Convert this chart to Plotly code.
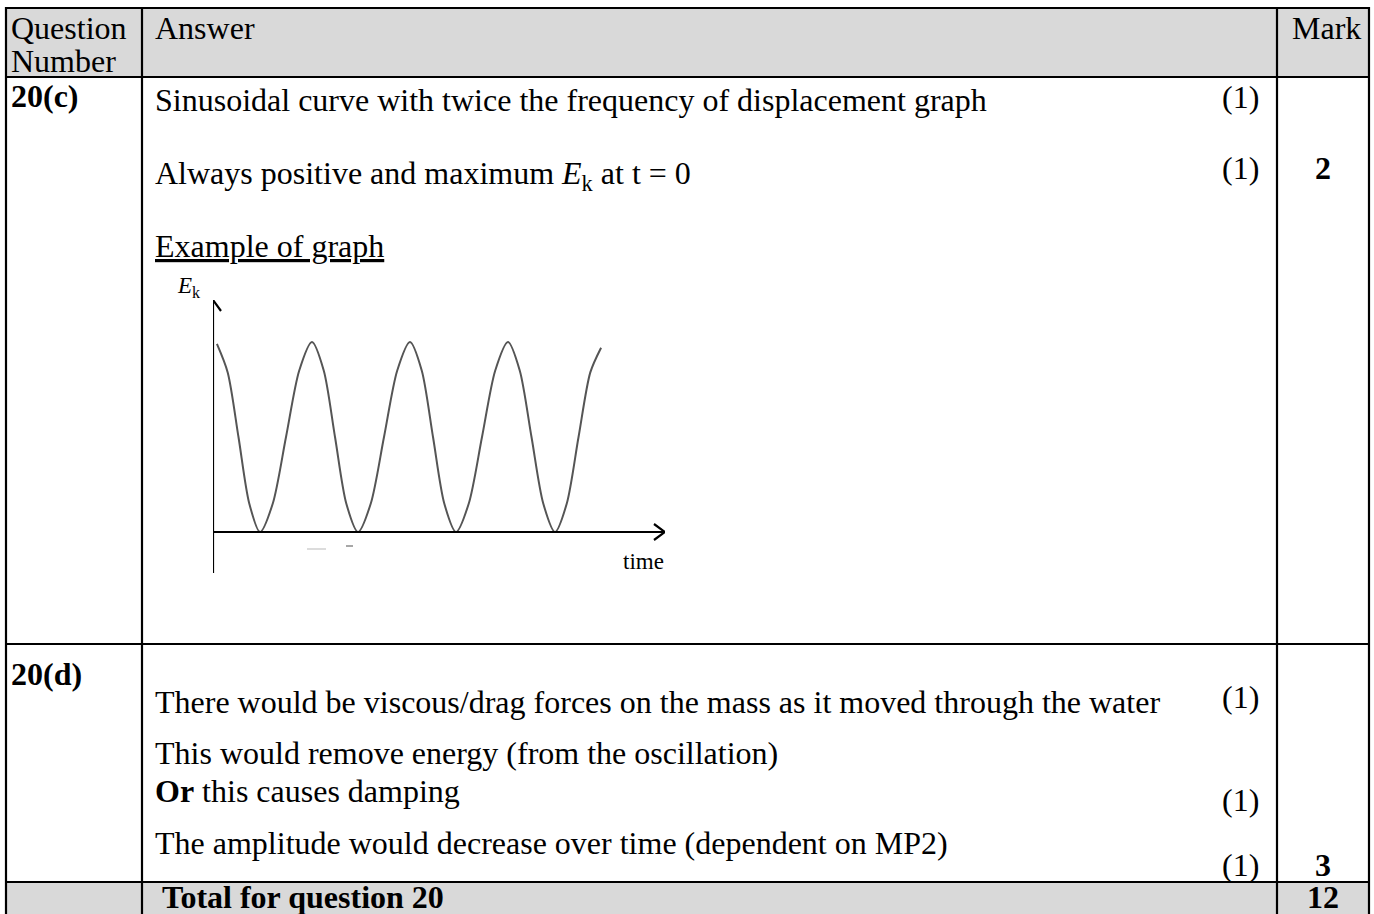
import plotly.graph_objects as go

# ---------------- data ----------------
# Example Ek–time curve (Ek normalised to peak = 1)
time_vals = [0.04, 0.15, 0.26, 0.37, 0.48, 0.61, 0.745, 0.88, 1.01, 1.13, 1.245, 1.36, 1.48,
             1.61, 1.745, 1.88, 2.01, 2.13, 2.245, 2.36, 2.48, 2.61, 2.745, 2.88, 3.01,
             3.13, 3.25, 3.37, 3.49, 3.61, 3.73, 3.85, 3.96]
ek_vals = [0.99, 0.84, 0.50, 0.15, 0.00, 0.15, 0.50, 0.85, 1.00, 0.85, 0.50, 0.15, 0.00,
           0.15, 0.50, 0.85, 1.00, 0.85, 0.50, 0.15, 0.00, 0.15, 0.50, 0.85, 1.00,
           0.85, 0.50, 0.15, 0.00, 0.15, 0.50, 0.84, 0.97]

header_labels = ["Question", "Number", "Answer", "Mark"]
question_ids = ["20(c)", "20(d)"]
answers_c = ["Sinusoidal curve with twice the frequency of displacement graph",
             "Always positive and maximum <i>E</i><sub>k</sub> at t = 0"]
marks_c = ["(1)", "(1)"]
total_c = "2"
graph_caption = "Example of graph"
axis_labels = ["<i>E</i><sub>k</sub>", "time"]
answers_d = ["There would be viscous/drag forces on the mass as it moved through the water",
             "This would remove energy (from the oscillation)",
             "<b>Or</b> this causes damping",
             "The amplitude would decrease over time (dependent on MP2)"]
marks_d = ["(1)", "(1)", "(1)"]
total_d = "3"
total_label = "Total for question 20"
total_all = "12"

# ---------------- layout helpers ----------------
W, H = 1374, 914
FONT = "Liberation Serif, Times New Roman, serif"
FS = 32


def px(x):
    return x / W


def py(y):
    return 1 - y / H


fig = go.Figure()

# graph geometry (pixels)
gx0, gx1 = 213, 665          # y-axis position, x-arrow tip
gy_top, gy_bot = 300, 573     # y-arrow tip, bottom of y-axis
gy_zero = 532                 # Ek = 0 line
px_per_t = 98.0
px_per_ek = 190.0
t_max = (gx1 - gx0) / px_per_t
ek_top = (gy_zero - gy_top) / px_per_ek
ek_bot = (gy_zero - gy_bot) / px_per_ek

fig.add_trace(go.Scatter(x=time_vals, y=ek_vals, mode="lines",
                         line=dict(color="#555555", width=2, shape="spline", smoothing=0.8),
                         hoverinfo="skip", showlegend=False))

fig.update_xaxes(domain=[px(gx0), px(gx1)], range=[0, t_max], visible=False,
                 showgrid=False, zeroline=False, fixedrange=True)
fig.update_yaxes(domain=[py(gy_bot), py(gy_top)], range=[ek_bot, ek_top], visible=False,
                 showgrid=False, zeroline=False, fixedrange=True)

shapes = []
# table backgrounds
shapes.append(dict(type="rect", xref="paper", yref="paper", x0=px(6), x1=px(1369),
                   y0=py(77), y1=py(8), fillcolor="#d9d9d9", line=dict(width=0), layer="below"))
shapes.append(dict(type="rect", xref="paper", yref="paper", x0=px(6), x1=px(1369),
                   y0=py(920), y1=py(882), fillcolor="#d9d9d9", line=dict(width=0), layer="below"))
LW = 2.2
for yline in [8, 77, 644, 882]:
    shapes.append(dict(type="line", xref="paper", yref="paper", x0=px(5), x1=px(1370),
                       y0=py(yline), y1=py(yline), line=dict(color="black", width=LW)))
for xline in [6, 142, 1277, 1369]:
    shapes.append(dict(type="line", xref="paper", yref="paper", x0=px(xline), x1=px(xline),
                       y0=py(7), y1=py(920), line=dict(color="black", width=LW)))

# graph axes with open arrowheads (data coordinates)
shapes.append(dict(type="line", xref="x", yref="y", x0=0, x1=0, y0=ek_bot, y1=ek_top,
                   line=dict(color="black", width=2.2)))
shapes.append(dict(type="line", xref="x", yref="y", x0=0, x1=t_max, y0=0, y1=0,
                   line=dict(color="black", width=2.2)))
ah_w, ah_l = 8, 11
shapes.append(dict(type="path", xref="x", yref="y",
                   path=f"M {-ah_w/px_per_t} {ek_top-ah_l/px_per_ek} L 0 {ek_top} L {ah_w/px_per_t} {ek_top-ah_l/px_per_ek}",
                   line=dict(color="black", width=2.2)))
shapes.append(dict(type="path", xref="x", yref="y",
                   path=f"M {t_max-ah_l/px_per_t} {ah_w/px_per_ek} L {t_max} 0 L {t_max-ah_l/px_per_t} {-ah_w/px_per_ek}",
                   line=dict(color="black", width=2.2)))
# faint scan marks under the time axis
shapes.append(dict(type="line", xref="paper", yref="paper", x0=px(307), x1=px(326),
                   y0=py(549), y1=py(549), line=dict(color="#d0d0d0", width=1.5)))
shapes.append(dict(type="line", xref="paper", yref="paper", x0=px(346), x1=px(353),
                   y0=py(546), y1=py(546), line=dict(color="#8a8a8a", width=1.5)))

annotations = []


def txt(text, x, y, anchor="left", size=FS, **font_kw):
    annotations.append(dict(text=text, x=px(x), y=py(y), xref="paper", yref="paper",
                            xanchor=anchor, yanchor="middle", showarrow=False,
                            font=dict(family=FONT, size=size, color="black", **font_kw)))


# header
txt(header_labels[0], 9, 28)
txt(header_labels[1], 9, 61)
txt(header_labels[2], 153, 28)
txt(header_labels[3], 1290, 28)

# 20(c)
txt(f"<b>{question_ids[0]}</b>", 9, 96)
txt(answers_c[0], 153, 100)
txt(marks_c[0], 1261, 97, anchor="right")
txt(answers_c[1], 153, 176)
txt(marks_c[1], 1261, 168, anchor="right")
txt(f"<b>{total_c}</b>", 1323, 168, anchor="center")
txt(graph_caption, 153, 246, lineposition="under")
txt(axis_labels[0], 175, 287, size=23)
txt(axis_labels[1], 621, 561, size=23)

# 20(d)
txt(f"<b>{question_ids[1]}</b>", 9, 674)
txt(answers_d[0], 153, 702)
txt(marks_d[0], 1261, 697, anchor="right")
txt(answers_d[1], 153, 753)
txt(answers_d[2], 153, 791)
txt(marks_d[1], 1261, 800, anchor="right")
txt(answers_d[3], 153, 843)
txt(marks_d[2], 1261, 865, anchor="right")
txt(f"<b>{total_d}</b>", 1323, 865, anchor="center")

# total row
txt(f"<b>{total_label}</b>", 160, 897)
txt(f"<b>{total_all}</b>", 1323, 897, anchor="center")

fig.update_layout(width=W, height=H, margin=dict(l=0, r=0, t=0, b=0),
                  paper_bgcolor="white", plot_bgcolor="rgba(0,0,0,0)",
                  shapes=shapes, annotations=annotations, showlegend=False,
                  font=dict(family=FONT))

fig.write_html("out.html", config={"displayModeBar": False, "staticPlot": True},
               post_script="document.body.style.margin='0px';document.body.style.overflow='hidden';")
